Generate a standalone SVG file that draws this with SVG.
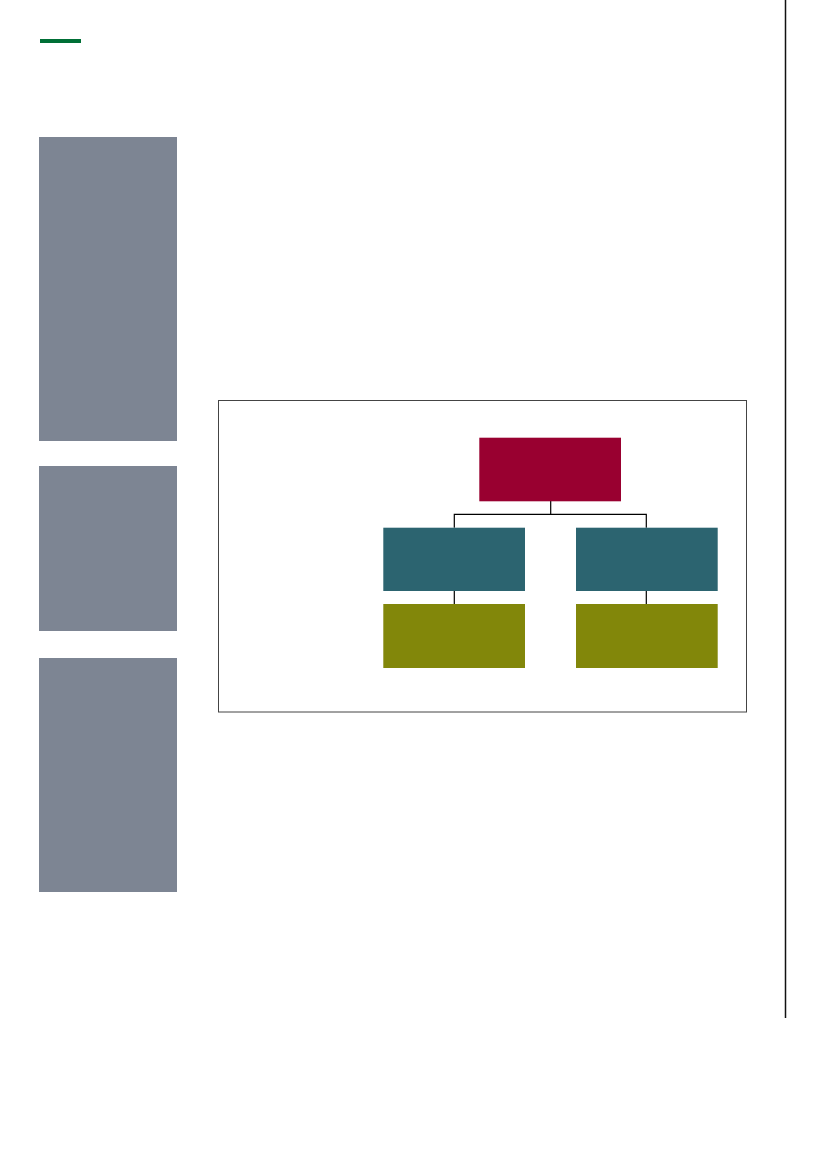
<svg xmlns="http://www.w3.org/2000/svg" width="827" height="1169" viewBox="0 0 827 1169">
<style>
.side{fill:#7d8593}
.top{fill:#990030}
.mid{fill:#2c6470}
.low{fill:#82870a}
.conn{fill:none;stroke:#000;stroke-width:1.2}
</style>
<rect width="827" height="1169" fill="#fff"/>
<rect id="accent" x="40" y="39" width="41" height="4" fill="#006f36"/>
<line id="rule" x1="785.5" y1="0" x2="785.5" y2="1018" stroke="#111" stroke-width="1.5"/>
<g id="side1"><rect class="side" x="39" y="137" width="138" height="304"/></g>
<g id="side2"><rect class="side" x="39" y="466" width="138" height="165"/></g>
<g id="side3"><rect class="side" x="39" y="658" width="138" height="234"/></g>
<g id="frame"><rect x="218.5" y="400.5" width="528" height="311.5" fill="none" stroke="#444" stroke-width="1"/></g>
<g id="connectors">
<path class="conn" d="M550.7 501 V514.3 M454.3 527.7 V514.3 H646.3 V527.7"/>
<path class="conn" d="M454.3 591 V604 M646.3 591 V604"/>
</g>
<g id="root"><rect class="top" x="479.3" y="437.7" width="141.7" height="63.6"/></g>
<g id="mid-left"><rect class="mid" x="383.3" y="527.7" width="141.7" height="63.3"/></g>
<g id="mid-right"><rect class="mid" x="576" y="527.7" width="141.7" height="63.3"/></g>
<g id="low-left"><rect class="low" x="383.3" y="604" width="141.7" height="64"/></g>
<g id="low-right"><rect class="low" x="576" y="604" width="141.7" height="64"/></g>
</svg>
